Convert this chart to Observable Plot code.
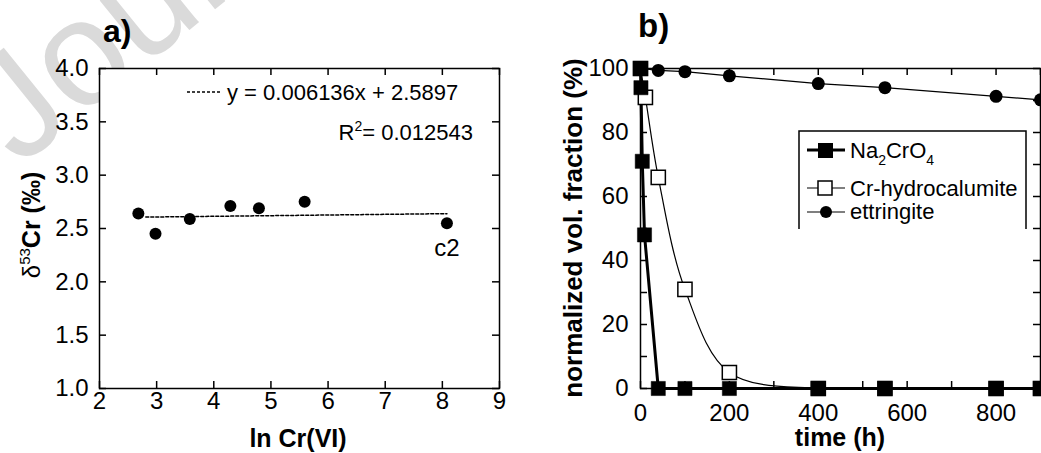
<!DOCTYPE html>
<html>
<head>
<meta charset="utf-8">
<script src="https://cdn.jsdelivr.net/npm/d3@7"></script>
<script src="https://cdn.jsdelivr.net/npm/@observablehq/plot@0.6"></script>
<style>
  html, body { margin: 0; padding: 0; background: #fff; }
  #wrap { position: relative; width: 1041px; height: 453px; overflow: hidden; font-family: "Liberation Sans", Arial, sans-serif; }
  #wm { position: absolute; left: 0; top: 0; }
  .panel { position: absolute; top: 0; }
  #overlay { position: absolute; left: 0; top: 0; pointer-events: none; }
</style>
</head>
<body>
<div id="wrap">
  <svg id="wm" width="1041" height="453">
    <text x="19" y="168" transform="rotate(-39 19 168)" font-family="Liberation Sans, Arial, sans-serif" font-size="150" fill="#dadada">Journal Pre-proof</text>
  </svg>
  <div id="pa" class="panel" style="left:0px"></div>
  <div id="pb" class="panel" style="left:520px"></div>
  <svg id="overlay" width="1041" height="453" font-family="Liberation Sans, Arial, sans-serif">
    <!-- panel titles -->
    <text x="103" y="42" font-size="32" font-weight="bold">a)</text>
    <text x="638" y="37" font-size="33" font-weight="bold">b)</text>
    <!-- panel a labels -->
    <text x="298" y="447" font-size="25" font-weight="bold" text-anchor="middle">ln Cr(VI)</text>
    <text transform="translate(40,225) rotate(-90)" text-anchor="middle"><tspan font-size="24">δ</tspan><tspan font-size="15" dy="-10">53</tspan><tspan font-size="25" font-weight="bold" dy="10">Cr (‰)</tspan></text>
    <!-- regression legend -->
    <line x1="187" y1="92" x2="221" y2="92" stroke="#000" stroke-width="1.3" stroke-dasharray="3,2"/>
    <text x="227" y="100" font-size="22">y = 0.006136x +  2.5897</text>
    <text x="473" y="140" font-size="22" text-anchor="end">R<tspan font-size="14" dy="-9">2</tspan><tspan dy="9">= 0.012543</tspan></text>
    <!-- panel b labels -->
    <text x="840" y="446" font-size="25" font-weight="bold" text-anchor="middle">time (h)</text>
    <text transform="translate(582,228) rotate(-90)" font-size="26" font-weight="bold" text-anchor="middle">normalized vol. fraction (%)</text>
    <!-- legend box (open bottom) -->
    <path d="M799,229 L799,131 L1026,131 L1026,229" fill="none" stroke="#000" stroke-width="1.5"/>
    <line x1="807" y1="150" x2="845" y2="150" stroke="#000" stroke-width="3"/>
    <rect x="818" y="143" width="15" height="15" fill="#000"/>
    <text x="850" y="158" font-size="22">Na<tspan font-size="14" dy="7">2</tspan><tspan dy="-7">CrO</tspan><tspan font-size="14" dy="7">4</tspan></text>
    <line x1="807" y1="188" x2="845" y2="188" stroke="#000" stroke-width="1.2"/>
    <rect x="818" y="181" width="14" height="14" fill="#fff" stroke="#000" stroke-width="1.5"/>
    <text x="850" y="196" font-size="22">Cr-hydrocalumite</text>
    <line x1="807" y1="212" x2="845" y2="212" stroke="#000" stroke-width="1.2"/>
    <circle cx="826" cy="212" r="6" fill="#000"/>
    <text x="850" y="219" font-size="22">ettringite</text>
  </svg>
</div>
<script>
// ---------- Panel a data ----------
const lnCr   = [2.68, 2.98, 3.58, 4.29, 4.79, 5.59, 8.08];
const d53Cr  = [2.64, 2.45, 2.59, 2.71, 2.69, 2.75, 2.55];
const pointLabels = ["", "", "", "", "", "", "c2"];
const fitSlope = 0.006136;
const fitIntercept = 2.5897;
const fitRange = [2.81, 8.08];
const xTicksA = [2, 3, 4, 5, 6, 7, 8, 9];
const yTicksA = [1.0, 1.5, 2.0, 2.5, 3.0, 3.5, 4.0];

// ---------- Panel b data ----------
const naTime  = [0, 1, 4, 9, 40, 100, 200, 400, 550, 800, 900];
const naFrac  = [100, 94, 71, 48, 0, 0, 0, 0, 0, 0, 0];
const hcTime  = [0, 11, 40, 100, 200, 400, 550, 800, 900];
const hcFrac  = [100, 91, 66, 31, 5, 0, 0, 0, 0];
const etTime  = [0, 40, 100, 200, 400, 550, 800, 900];
const etFrac  = [100, 99.4, 99, 97.7, 95.3, 94, 91.3, 90.2];
const xTicksB = [0, 100, 200, 300, 400, 500, 600, 700, 800, 900];
const xLabelsB = [0, 200, 400, 600, 800];
const yTicksB = [0, 10, 20, 30, 40, 50, 60, 70, 80, 90, 100];
const yLabelsB = [0, 20, 40, 60, 80, 100];

const font = "Liberation Sans, Arial, sans-serif";
const H = 453, MT = 68, MB = 65;
const innerH = H - MT - MB;      // 320
const tick = 7;

function bigText(svg) {
  d3.select(svg).selectAll("text").style("font-size", "24px").style("font-family", font);
  return svg;
}

// ---------- Panel a ----------
const ptsA = lnCr.map((x, i) => ({x, y: d53Cr[i], label: pointLabels[i]}));
const fitA = fitRange.map(x => ({x, y: fitSlope * x + fitIntercept}));
const WA = 520, MLA = 99, MRA = 21, innerWA = WA - MLA - MRA;

const plotA = Plot.plot({
  width: WA, height: H,
  marginLeft: MLA, marginRight: MRA, marginTop: MT, marginBottom: MB,
  x: {domain: [2, 9]},
  y: {domain: [1, 4]},
  style: {fontFamily: font, fontSize: "24px", color: "#000", background: "transparent", overflow: "visible"},
  marks: [
    Plot.frame({fill: "#fff"}),
    Plot.ruleX(xTicksA, {x: d => d, insetTop: innerH - tick, stroke: "#000", strokeWidth: 1.5}),
    Plot.ruleX(xTicksA, {x: d => d, insetBottom: innerH - tick, stroke: "#000", strokeWidth: 1.5}),
    Plot.ruleY(yTicksA, {y: d => d, insetRight: innerWA - tick, stroke: "#000", strokeWidth: 1.5}),
    Plot.ruleY(yTicksA, {y: d => d, insetLeft: innerWA - tick, stroke: "#000", strokeWidth: 1.5}),
    Plot.axisX({ticks: xTicksA, tickSize: 0, tickPadding: 3, label: null, tickFormat: d => String(d)}),
    Plot.axisY({ticks: yTicksA, tickSize: 0, tickPadding: 11, label: null, tickFormat: d => d.toFixed(1)}),
    Plot.frame({stroke: "#000", strokeWidth: 1.5}),
    Plot.line(fitA, {x: "x", y: "y", stroke: "#000", strokeWidth: 1.5, strokeDasharray: "3,2"}),
    Plot.dot(ptsA, {x: "x", y: "y", r: 6, fill: "#000"}),
    Plot.text(ptsA, {x: "x", y: "y", text: "label", dy: 25, fill: "#000"})
  ]
});
document.getElementById("pa").appendChild(bigText(plotA));

// ---------- Panel b ----------
const na = naTime.map((t, i) => ({t, v: naFrac[i]}));
const hc = hcTime.map((t, i) => ({t, v: hcFrac[i]}));
const et = etTime.map((t, i) => ({t, v: etFrac[i]}));
const WB = 521, MLB = 120, MRB = 1, innerWB = WB - MLB - MRB;

const plotB = Plot.plot({
  width: WB, height: H,
  marginLeft: MLB, marginRight: MRB, marginTop: MT, marginBottom: MB,
  x: {domain: [0, 900]},
  y: {domain: [0, 100]},
  style: {fontFamily: font, fontSize: "24px", color: "#000", background: "transparent", overflow: "visible"},
  marks: [
    Plot.frame({fill: "#fff"}),
    Plot.ruleX(xTicksB, {x: d => d, insetTop: innerH - tick, stroke: "#000", strokeWidth: 1.5}),
    Plot.ruleX(xTicksB, {x: d => d, insetBottom: innerH - tick, stroke: "#000", strokeWidth: 1.5}),
    Plot.ruleY(yTicksB, {y: d => d, insetRight: innerWB - tick, stroke: "#000", strokeWidth: 1.5}),
    Plot.ruleY(yTicksB, {y: d => d, insetLeft: innerWB - tick, stroke: "#000", strokeWidth: 1.5}),
    Plot.axisX({ticks: xLabelsB, tickSize: 0, tickPadding: 15, label: null}),
    Plot.axisY({ticks: yLabelsB, tickSize: 0, tickPadding: 12, label: null}),
    Plot.frame({stroke: "#000", strokeWidth: 1.5}),
    Plot.line(hc, {x: "t", y: "v", stroke: "#000", strokeWidth: 1.2, curve: "catmull-rom"}),
    Plot.line(et, {x: "t", y: "v", stroke: "#000", strokeWidth: 1.2}),
    Plot.line(na, {x: "t", y: "v", stroke: "#000", strokeWidth: 3}),
    Plot.dot(hc, {x: "t", y: "v", symbol: "square", r: 8, fill: "#fff", stroke: "#000", strokeWidth: 1.5}),
    Plot.dot(et, {x: "t", y: "v", r: 6.5, fill: "#000"}),
    Plot.dot(na, {x: "t", y: "v", symbol: "square", r: 8, fill: "#000", stroke: "#000", strokeWidth: 0.5})
  ]
});
document.getElementById("pb").appendChild(bigText(plotB));
</script>
</body>
</html>
